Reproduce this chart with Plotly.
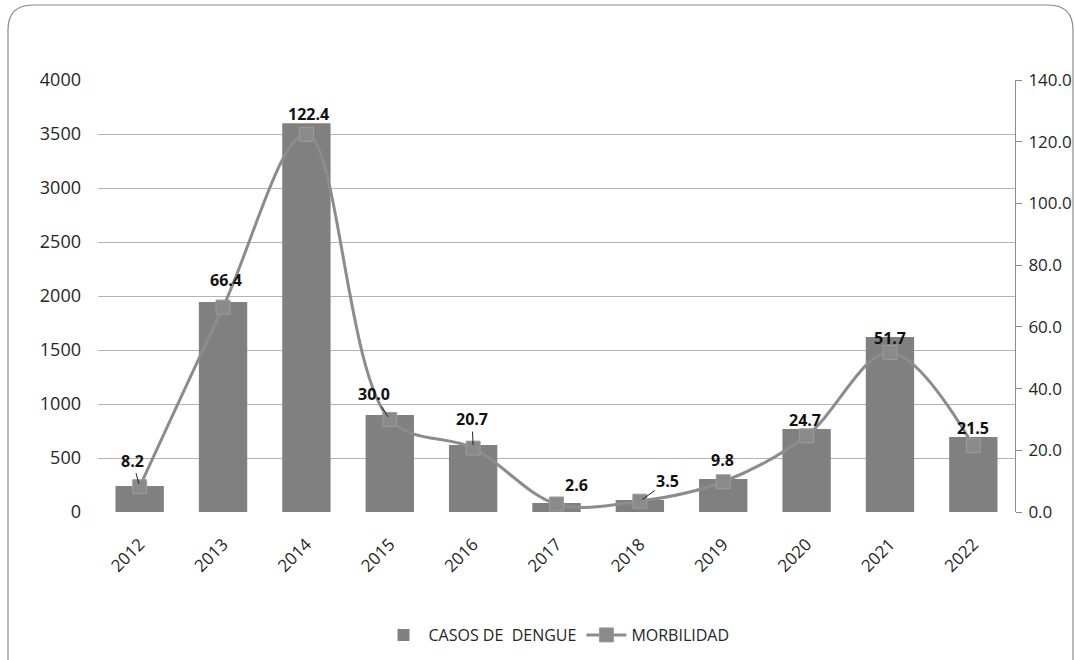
import plotly.graph_objects as go

years = ["2012", "2013", "2014", "2015", "2016", "2017", "2018", "2019", "2020", "2021", "2022"]
casos = [240, 1944, 3600, 898, 620, 83, 111, 305, 768, 1620, 694]
morbilidad = [8.2, 66.4, 122.4, 30.0, 20.7, 2.6, 3.5, 9.8, 24.7, 51.7, 21.5]
left_ticks = [0, 500, 1000, 1500, 2000, 2500, 3000, 3500, 4000]
right_ticks = [0, 20, 40, 60, 80, 100, 120, 140]

FONT = "Open Sans"
TXT = "#262626"

fig = go.Figure()
fig.add_trace(go.Bar(
    x=years, y=casos, name="CASOS DE\u00a0 DENGUE",
    marker=dict(color="#808080", line=dict(width=0)),
    width=0.58, yaxis="y",
))
fig.add_trace(go.Scatter(
    x=years, y=morbilidad, name="MORBILIDAD", yaxis="y2",
    mode="lines+markers",
    line=dict(color="#8c8c8c", width=3, shape="spline", smoothing=1),
    marker=dict(symbol="square", size=14, color="#8a8a8a", line=dict(color="#9c9c9c", width=1)),
    cliponaxis=False,
))

# data label offsets (pixels) and leader-line flags
offsets = [
    (-7, -26, True),
    (3, -27, False),
    (2, -20, False),
    (-16, -25, True),
    (-1, -29, True),
    (20, -19, False),
    (28, -20, True),
    (-1, -22, False),
    (-2, -16, False),
    (0, -14, False),
    (0, -18, False),
]
for i, v in enumerate(morbilidad):
    dx, dy, arrow = offsets[i]
    label = f"{v:.1f}"
    if arrow:
        fig.add_annotation(
            x=i, y=v, xref="x", yref="y2", text=f"<b>{label}</b>",
            showarrow=True, arrowhead=0, arrowwidth=1, arrowcolor="#222",
            ax=dx, ay=dy, standoff=3,
            font=dict(family=FONT, size=16, color="#111"),
        )
    else:
        fig.add_annotation(
            x=i, y=v, xref="x", yref="y2", text=f"<b>{label}</b>",
            showarrow=False, xshift=dx, yshift=-dy,
            font=dict(family=FONT, size=16, color="#111"),
        )

# rounded border around the chart (paper coords computed from pixel layout)
L, R, T, B = 98, 1015, 80, 512
W, H = R - L, B - T
def px(x):
    return (x - L) / W
def py(y):
    return (B - y) / H
xl, xr, yt, yb = px(8), px(1073), py(5), py(670)
rx, ry = 25 / W, 25 / H
path = (f"M {xl},{yb} L {xl},{yt-ry} Q {xl},{yt} {xl+rx},{yt} "
        f"L {xr-rx},{yt} Q {xr},{yt} {xr},{yt-ry} L {xr},{yb}")
fig.add_shape(type="path", path=path, xref="paper", yref="paper",
              line=dict(color="#8a8a8a", width=1.2), layer="below")

fig.update_layout(
    width=1075, height=660,
    margin=dict(l=L, r=1075 - R, t=T, b=660 - B, autoexpand=False),
    paper_bgcolor="white", plot_bgcolor="white",
    font=dict(family=FONT, size=18, color=TXT),
    bargap=0.42,
    showlegend=True,
    legend=dict(orientation="h", x=0.5, xanchor="center", y=py(635), yanchor="middle",
                font=dict(family=FONT, size=16, color=TXT), itemwidth=40,
                traceorder="normal"),
    xaxis=dict(
        type="category", range=[-0.5, 10.5], tickangle=-45,
        showgrid=False, showline=False, ticks="", automargin=False,
        ticklabelstandoff=18,
        tickfont=dict(family=FONT, size=17, color=TXT),
    ),
    yaxis=dict(
        range=[0, 4000], tickvals=left_ticks, showgrid=True, gridcolor="#b3b3b3",
        gridwidth=1, zeroline=False, showline=False, ticks="",
        ticklabelstandoff=16, automargin=False,
        tickfont=dict(family=FONT, size=18, color=TXT),
    ),
    yaxis2=dict(
        range=[0, 140], tickvals=right_ticks, tickformat=".1f", overlaying="y",
        side="right", showgrid=False, zeroline=False, showline=True,
        linecolor="#8c8c8c", linewidth=1, ticks="outside", ticklen=6, tickcolor="#8c8c8c",
        ticklabelstandoff=3, automargin=False,
        tickfont=dict(family=FONT, size=17, color=TXT),
    ),
)

fig.write_html("out.html")
